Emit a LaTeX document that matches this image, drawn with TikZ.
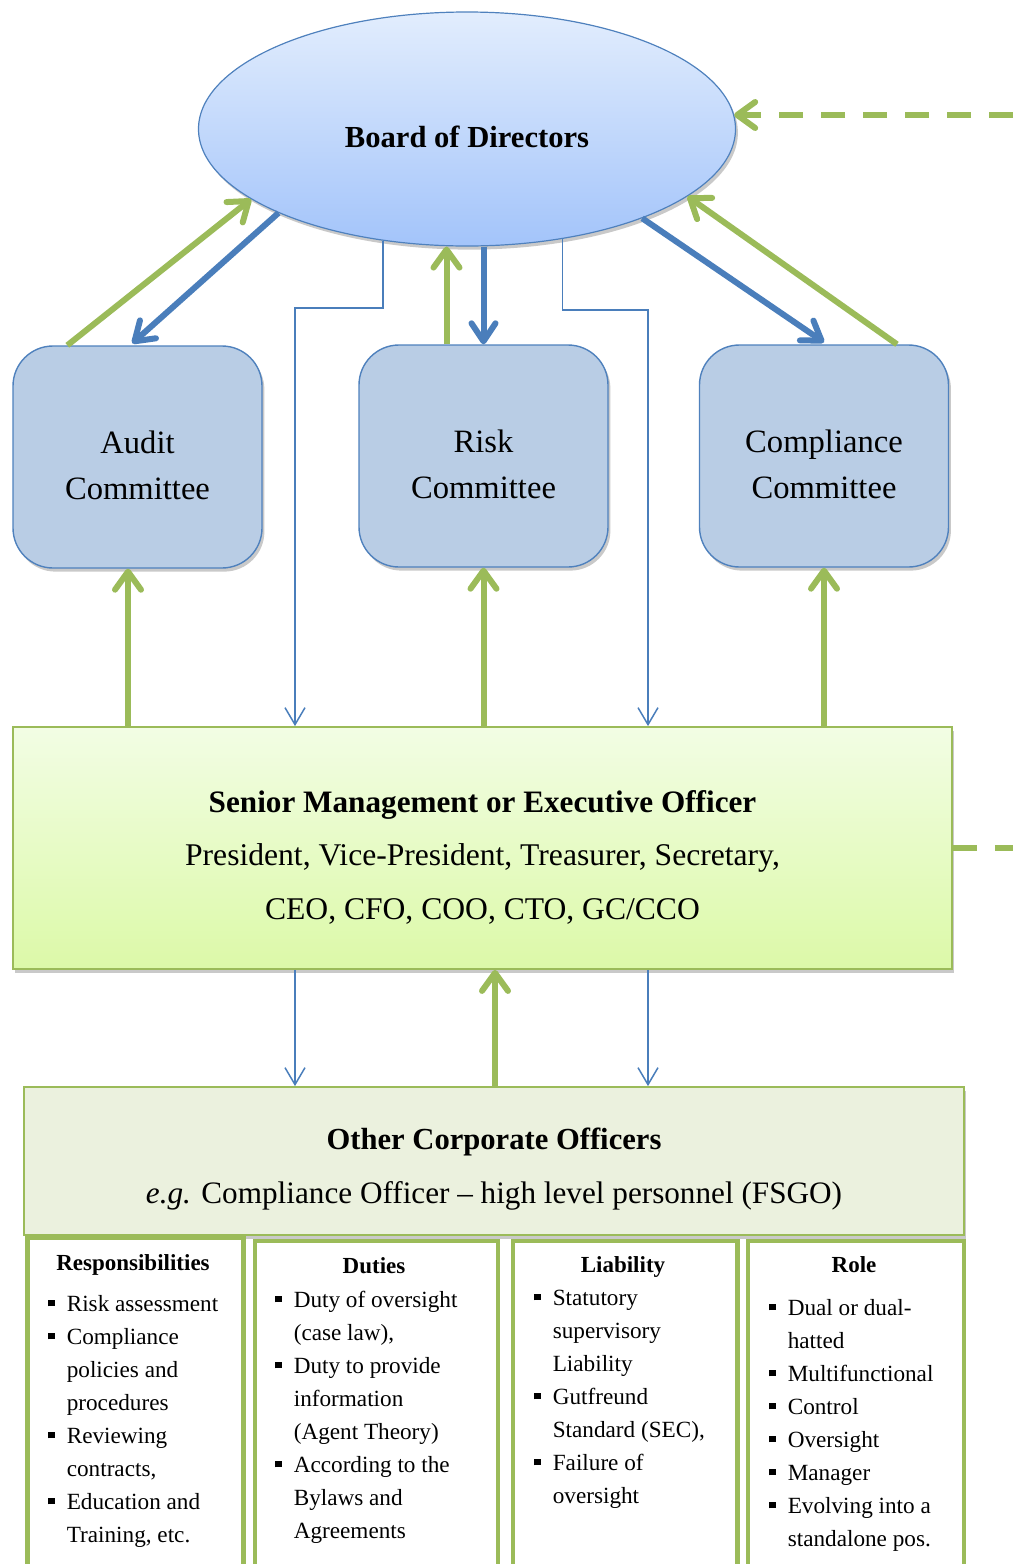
\documentclass[tikz,border=0pt]{standalone}
\usepackage{fontspec}
\setmainfont{Liberation Serif}
\usetikzlibrary{shapes.geometric,arrows.meta,shadows,calc}

\definecolor{bdblue}{RGB}{79,129,189}
\definecolor{arrblue}{RGB}{74,126,187}
\definecolor{leaf}{RGB}{155,187,89}
\definecolor{cmtfill}{RGB}{185,205,229}
\definecolor{elltop}{RGB}{226,237,253}
\definecolor{ellbot}{RGB}{163,196,250}
\definecolor{srtop}{RGB}{242,253,228}
\definecolor{srbot}{RGB}{220,249,168}
\definecolor{ocfill}{RGB}{235,241,222}

\newcommand{\sqb}{\rule[2.3pt]{3.2pt}{3.2pt}}
\newcommand{\colfont}{\fontsize{11.6}{16.5}\selectfont}

\tikzset{
  shadowed/.style={drop shadow={shadow xshift=1.2pt, shadow yshift=-1.8pt, opacity=0.3, fill=black!70}},
  boardshape/.style={ellipse, draw=bdblue, line width=0.6pt, top color=elltop, bottom color=ellbot,
    minimum width=268.5pt, minimum height=117pt, inner sep=0pt, shadowed},
  cmtbox/.style={rectangle, rounded corners=20pt, draw=bdblue, line width=0.7pt, fill=cmtfill,
    minimum width=124.5pt, minimum height=111pt, inner sep=0pt, shadowed},
  srbox/.style={rectangle, draw=leaf, line width=0.9pt, top color=srtop, bottom color=srbot,
    minimum width=469.5pt, minimum height=121pt, inner sep=0pt, shadowed},
  ocbox/.style={rectangle, draw=leaf, line width=0.9pt, fill=ocfill,
    minimum width=470pt, minimum height=74pt, inner sep=0pt, shadowed},
  colbox/.style={rectangle, draw=leaf, line width=2.3pt, fill=white, anchor=north west,
    minimum height=190pt, inner sep=0pt, shadowed},
  lbl/.style={inner sep=0pt, align=center},
  cmttext/.style={lbl, font=\fontsize{16.3}{23}\selectfont},
  colhead/.style={inner sep=0pt, anchor=base, font=\fontsize{11.5}{13}\selectfont\bfseries},
  collist/.style={inner sep=0pt, anchor=base west, font=\colfont},
  greenarr/.style={draw=leaf, line width=3pt, -{Straight Barb[length=9pt,width=13pt,round]}},
  bluearr/.style={draw=arrblue, line width=3pt, -{Straight Barb[length=9pt,width=12pt,round]}},
  thinarr/.style={draw=arrblue, line width=0.75pt, -{Straight Barb[length=8.5pt,width=10pt]}},
  dashlink/.style={draw=leaf, line width=3pt, dash pattern=on 12pt off 9pt},
}

\begin{document}
\begin{tikzpicture}[x=0.5pt,y=-0.5pt]
\useasboundingbox (0,0) rectangle (1013,1564);
\clip (0,0) rectangle (1013,1564);

% right edge reference and bend points of the thin reporting lines
\coordinate (rt) at (1013,0);
\coordinate (k1) at (295,308);
\coordinate (k2) at (648,310);

% board
\node[boardshape] (bod) at (467,129) {};
\node[lbl, font=\fontsize{15.3}{18}\selectfont\bfseries] (bodtxt) at (467,137) {Board of Directors};

% committees
\node[cmtbox] (audit) at (137.5,457) {};
\node[cmtbox] (risk) at (483.5,456) {};
\node[cmtbox] (comp) at (824,456) {};
\node[cmttext] (audittxt) at (137.5,465) {Audit\\Committee};
\node[cmttext] (risktxt) at (483.5,464) {Risk\\Committee};
\node[cmttext] (comptxt) at (824,464) {Compliance\\Committee};

% senior management
\node[srbox] (senior) at (482.5,848) {};
\node[lbl, font=\fontsize{15.8}{26.75}\selectfont] (srtxt) at (482.5,857)
  {{\fontsize{15.6}{26.75}\selectfont\bfseries Senior Management or Executive Officer}\\
   President, Vice-President, Treasurer, Secretary,\\
   CEO, CFO, COO, CTO, GC/CCO};

% other corporate officers
\node[ocbox] (other) at (494,1161) {};
\node[lbl, font=\fontsize{15.6}{27}\selectfont] (octxt) at (494,1169)
  {{\fontsize{15.3}{27}\selectfont\bfseries Other Corporate Officers}\\
   \textit{e.g.} Compliance Officer – high level personnel (FSGO)};

% detail columns
\node[colbox, minimum width=108pt] (c1) at (25,1235.5) {};
\node[colbox, minimum width=121.5pt] (c2) at (252.5,1238.5) {};
\node[colbox, minimum width=112.25pt] (c3) at (510.5,1238.5) {};
\node[colbox, minimum width=108pt] (c4) at (745.5,1238.5) {};

\node[colhead] (h1) at (133,1270) {Responsibilities};
\node[colhead] (h2) at (374,1273) {Duties};
\node[colhead] (h3) at (623,1272) {Liability};
\node[colhead] (h4) at (854,1272) {Role};

\node[collist] (l1) at (48,1311) {\begin{tabular}[t]{@{}l@{\hspace{6pt}}l@{}}
  \sqb & Risk assessment\\
  \sqb & Compliance\\
       & policies and\\
       & procedures\\
  \sqb & Reviewing\\
       & contracts,\\
  \sqb & Education and\\
       & Training, etc.
\end{tabular}};
\node[collist] (l2) at (275,1307) {\begin{tabular}[t]{@{}l@{\hspace{6pt}}l@{}}
  \sqb & Duty of oversight\\
       & (case law),\\
  \sqb & Duty to provide\\
       & information\\
       & (Agent Theory)\\
  \sqb & According to the\\
       & Bylaws and\\
       & Agreements
\end{tabular}};
\node[collist] (l3) at (534,1305) {\begin{tabular}[t]{@{}l@{\hspace{6pt}}l@{}}
  \sqb & Statutory\\
       & supervisory\\
       & Liability\\
  \sqb & Gutfreund\\
       & Standard (SEC),\\
  \sqb & Failure of\\
       & oversight
\end{tabular}};
\node[collist] (l4) at (769,1315) {\begin{tabular}[t]{@{}l@{\hspace{6pt}}l@{}}
  \sqb & Dual or dual-\\
       & hatted\\
  \sqb & Multifunctional\\
  \sqb & Control\\
  \sqb & Oversight\\
  \sqb & Manager\\
  \sqb & Evolving into a\\
       & standalone pos.
\end{tabular}};

% board <-> committees
\draw[greenarr] ($(audit.north west)+(55,0)$) -- (bod.198);
\draw[bluearr] (bod.204) -- ($(audit.north west)+(120,-2)$);
\coordinate (rg) at ($(risk.north)+(-37,0)$);
\draw[greenarr] (rg) -- (rg |- bod.south);
\draw[bluearr] (bod.south -| risk.north) -- (risk.north);
\draw[bluearr] (bod.333) -- ($(comp.north)+(0,-2)$);
\draw[greenarr] ($(comp.north)+(73,0)$) -- (bod.343);

% board -> senior management (thin reporting lines)
\draw[thinarr] (bod.233) |- (k1) -- (k1 |- senior.north);
\draw[thinarr] (bod.311) |- (k2) -- (k2 |- senior.north);

% senior management -> committees
\coordinate (ag) at ($(audit.south)+(-9.5,0)$);
\draw[greenarr] (ag |- senior.north) -- (ag);
\draw[greenarr] (senior.north -| risk.south) -- (risk.south);
\draw[greenarr] (senior.north -| comp.south) -- (comp.south);

% senior management <-> other officers
\draw[thinarr] (k1 |- senior.south) -- (k1 |- other.north);
\draw[thinarr] (k2 |- senior.south) -- (k2 |- other.north);
\coordinate (og) at ($(other.north)+(1,0)$);
\draw[greenarr] (og) -- (og |- senior.south);

% dashed links to the right
\draw[dashlink] (senior.east) -- (senior.east -| rt);
\draw[dashlink, -{Straight Barb[length=9pt,width=13pt,round]}] (bod.3 -| rt) -- (bod.3);
\end{tikzpicture}
\end{document}
